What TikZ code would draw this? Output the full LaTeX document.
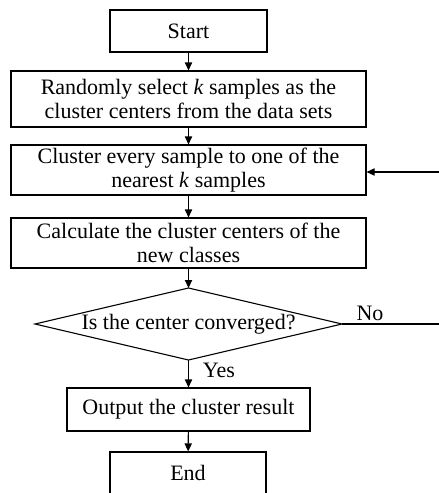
\documentclass[tikz,border=0pt]{standalone}
\usepackage{fontspec}
\setmainfont{Liberation Serif}
\usetikzlibrary{arrows.meta}
\begin{document}
\begin{tikzpicture}[x=0.5pt,y=-0.5pt,
  box/.style={draw,line width=0.55pt,rectangle,inner sep=0pt,align=center,
    font=\fontsize{11}{12}\selectfont},
  lbl/.style={inner sep=0pt,font=\fontsize{11}{12}\selectfont},
  arr/.style={line width=0.55pt,-{Triangle[length=4pt,width=3.6pt]}},
  ln/.style={line width=0.55pt}]
\useasboundingbox (0,0) rectangle (439,493);
\clip (0,0) rectangle (439,493);
\node[box,minimum width=78.5pt,minimum height=21pt] (start) at (188.5,31) {Start};
\node[box,minimum width=177.5pt,minimum height=28pt] (sel) at (188.5,99) {Randomly select \textit{k} samples as the\\cluster centers from the data sets};
\node[box,minimum width=177.5pt,minimum height=25pt] (clu) at (188.5,170) {Cluster every sample to one of the\\nearest \textit{k} samples};
\node[box,minimum width=177.5pt,minimum height=25pt] (calc) at (188.5,243) {Calculate the cluster centers of the\\new classes};
\coordinate (dtop) at (188.5,288);
\coordinate (dright) at (342,324);
\coordinate (dbot) at (188.5,360);
\coordinate (dleft) at (35,324);
\draw[ln] (dtop) -- (dright) -- (dbot) -- (dleft) -- cycle;
\node[lbl] (dec) at (188.5,324) {Is the center converged?};
\node[box,minimum width=121.5pt,minimum height=21.5pt] (out) at (188.5,409.5) {Output the cluster result};
\node[box,minimum width=78pt,minimum height=21pt] (end) at (188,473) {End};
\coordinate (noend) at (440,324);
\coordinate (fbstart) at (440,172);
\coordinate (fbend) at (clu.east |- fbstart);
\draw[arr] (start) -- (sel);
\draw[arr] (sel) -- (clu);
\draw[arr] (clu) -- (calc);
\draw[arr] (calc) -- (dtop);
\draw[arr] (dbot) -- (out);
\draw[arr] (out) -- (end);
\draw[ln] (dright) -- (noend);
\draw[arr] (fbstart) -- (fbend);
\node[lbl] (no) at (370,313) {No};
\node[lbl] (yes) at (219,370) {Yes};
\end{tikzpicture}
\end{document}
